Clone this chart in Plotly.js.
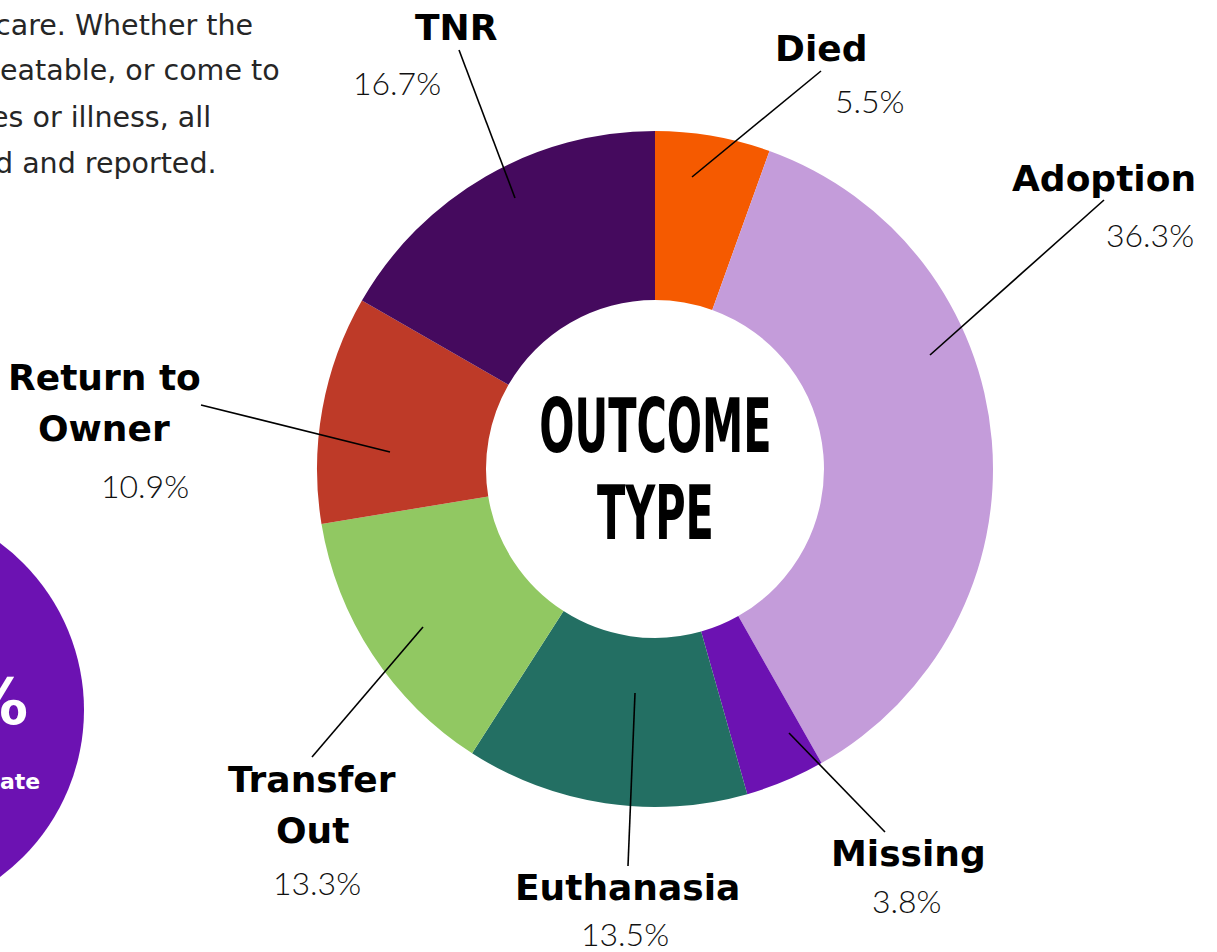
<!DOCTYPE html>
<html>
<head>
<meta charset="utf-8">
<script src="https://cdn.plot.ly/plotly-3.0.1.min.js"></script>
<style>html,body{margin:0;padding:0;background:#fff;}#chart{width:1217px;height:952px;}
.center-title text{transform-box:fill-box;transform-origin:center;transform:scale(0.56,1);}
</style>
</head>
<body>
<div id="chart"></div>
<script>
// ---- data ----
const categories = ['Died', 'Adoption', 'Missing', 'Euthanasia', 'Transfer Out', 'Return to Owner', 'TNR'];
const values = [5.5, 36.3, 3.8, 13.5, 13.3, 10.9, 16.7];
const sliceColors = ['#F55A00', '#C49CDA', '#6C12B2', '#236F63', '#91C862', '#BE3A28', '#450A5E'];
const displayNames = [['Died'], ['Adoption'], ['Missing'], ['Euthanasia'], ['Transfer', 'Out'], ['Return to', 'Owner'], ['TNR']];
const centerTitle = ['OUTCOME', 'TYPE'];
const paragraphLines = ['care. Whether the', 'eatable, or come to', 'es or illness, all', 'd and reported.'];

// ---- layout helpers (pixel -> paper) ----
const W = 1217, H = 952;
const px = x => x / W;
const py = y => 1 - y / H;

// label placement (pixels): first name line centre, percent centre, leader line start/end
const placement = {
  'Died':            {name: [821, 48],    pct: [870, 101],  line: [[821, 71], [692, 177]]},
  'Adoption':        {name: [1104, 178],  pct: [1150, 234], line: [[1104, 200], [930, 355]]},
  'Missing':         {name: [908, 853],   pct: [907, 900],  line: [[885, 832], [789, 733]]},
  'Euthanasia':      {name: [627, 887],   pct: [625, 933],  line: [[628, 866], [635, 693]]},
  'Transfer Out':    {name: [312, 779],   pct: [317, 882],  line: [[312, 757], [423, 627]]},
  'Return to Owner': {name: [104, 378],   pct: [145, 486],  line: [[201, 405], [390, 452]]},
  'TNR':             {name: [456, 27],    pct: [397, 82],   line: [[459, 50], [515, 198]]}
};
const nameLineGap = 51;

const cx = 655, cy = 469, R = 338;

const trace = {
  type: 'pie',
  labels: categories,
  values: values,
  sort: false,
  direction: 'clockwise',
  rotation: 0,
  hole: 0.5,
  textinfo: 'none',
  hoverinfo: 'label+percent',
  marker: {colors: sliceColors, line: {width: 0}},
  domain: {x: [px(cx - R), px(cx + R)], y: [py(cy + R), py(cy - R)]},
  showlegend: false
};

const labelFont = {family: 'DejaVu Sans, sans-serif', size: 36, color: '#000'};
const pctFont = {family: 'Lato, DejaVu Sans, sans-serif', size: 32, color: '#111', weight: 300};

const annotations = [];
const shapes = [];

categories.forEach((c, i) => {
  const p = placement[c];
  displayNames[i].forEach((ln, k) => {
    annotations.push({
      xref: 'paper', yref: 'paper', x: px(p.name[0]), y: py(p.name[1] + k * nameLineGap),
      xanchor: 'center', yanchor: 'middle', showarrow: false,
      text: '<b>' + ln + '</b>', font: labelFont
    });
  });
  annotations.push({
    xref: 'paper', yref: 'paper', x: px(p.pct[0]), y: py(p.pct[1]),
    xanchor: 'center', yanchor: 'middle', showarrow: false,
    text: values[i].toFixed(1) + '%', font: pctFont
  });
  shapes.push({
    type: 'line', xref: 'paper', yref: 'paper',
    x0: px(p.line[0][0]), y0: py(p.line[0][1]), x1: px(p.line[1][0]), y1: py(p.line[1][1]),
    line: {color: '#000', width: 1.6}
  });
});

// centre title (two lines)
const titleY = [426, 513];
const firstTitleIdx = annotations.length;
centerTitle.forEach((t, k) => {
  annotations.push({
    xref: 'paper', yref: 'paper', x: px(cx), y: py(titleY[k]),
    xanchor: 'center', yanchor: 'middle', showarrow: false,
    text: '<b>' + t + '</b>',
    font: {family: 'DejaVu Sans, sans-serif', size: 74, color: '#000'}
  });
});

// clipped paragraph at top-left
const paraRight = [255, 282, 213, 219];
paragraphLines.forEach((t, i) => {
  annotations.push({
    xref: 'paper', yref: 'paper', x: px(paraRight[i]), y: py(25 + 46 * i),
    xanchor: 'right', yanchor: 'middle', showarrow: false,
    text: t, font: {family: 'DejaVu Sans, sans-serif', size: 28.5, color: '#262626'}
  });
});

// purple badge partially off the left edge
shapes.push({
  type: 'circle', xref: 'paper', yref: 'paper', layer: 'below',
  x0: px(-124 - 208), x1: px(-124 + 208), y0: py(710 + 208), y1: py(710 - 208),
  fillcolor: '#6C12B2', line: {width: 0}
});
annotations.push({
  xref: 'paper', yref: 'paper', x: px(30), y: py(702),
  xanchor: 'right', yanchor: 'middle', showarrow: false,
  text: '<b>%</b>', font: {family: 'DejaVu Sans, sans-serif', size: 64, color: '#fff'}
});
annotations.push({
  xref: 'paper', yref: 'paper', x: px(42), y: py(781),
  xanchor: 'right', yanchor: 'middle', showarrow: false,
  text: '<b>ate</b>', font: {family: 'DejaVu Sans, sans-serif', size: 22, color: '#fff'}
});

const layout = {
  width: W, height: H,
  margin: {l: 0, r: 0, t: 0, b: 0},
  paper_bgcolor: '#fff', plot_bgcolor: '#fff',
  showlegend: false,
  annotations: annotations,
  shapes: shapes
};

Plotly.newPlot('chart', [trace], layout, {displayModeBar: false, staticPlot: true}).then(gd => {
  const groups = gd.querySelectorAll('.annotation');
  for (let k = 0; k < centerTitle.length; k++) {
    const g = groups[firstTitleIdx + k];
    if (g) g.classList.add('center-title');
  }
});
</script>
</body>
</html>
